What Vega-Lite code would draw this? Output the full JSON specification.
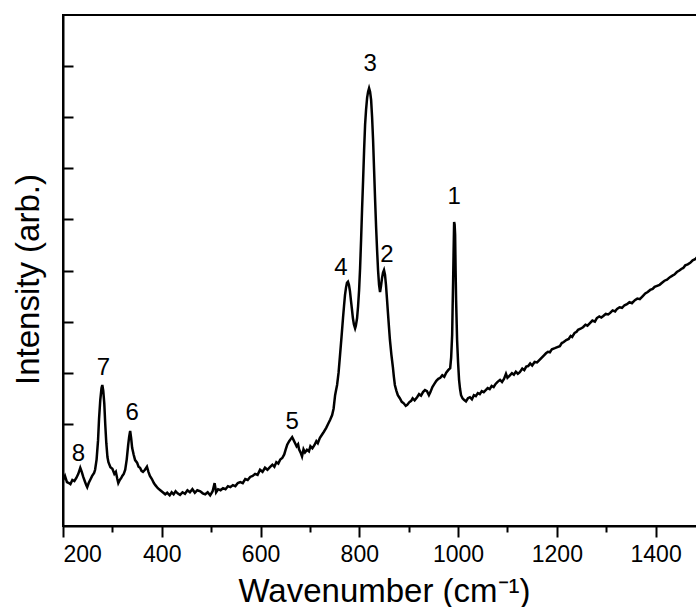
{
  "$schema": "https://vega.github.io/schema/vega-lite/v6.json",
  "width": 642,
  "height": 511,
  "autosize": {"type": "none"},
  "padding": {"left": 63, "top": 15, "right": 0, "bottom": 81},
  "background": "white",
  "config": {"view": {"stroke": "black", "strokeWidth": 2}, "font": "Liberation Sans"},
  "datasets": {
    "spectrum": [
      {"w":200,"i":0.90},{"w":204,"i":0.98},{"w":208,"i":0.86},{"w":212,"i":0.84},{"w":215,"i":0.82},{"w":219,"i":0.90},{"w":223,"i":0.88},{"w":227,"i":0.94},{"w":231,"i":1.02},{"w":235,"i":1.14},{"w":238,"i":1.06},{"w":241,"i":0.96},{"w":244,"i":0.88},{"w":247,"i":0.80},{"w":249,"i":0.76},{"w":252,"i":0.84},{"w":256,"i":0.92},{"w":259,"i":0.98},{"w":263,"i":1.04},{"w":265,"i":1.10},{"w":268,"i":1.30},{"w":271,"i":1.68},{"w":273,"i":2.10},{"w":275.5,"i":2.47},{"w":278,"i":2.70},{"w":279.6,"i":2.76},{"w":281.5,"i":2.65},{"w":283.6,"i":2.40},{"w":285.5,"i":2.00},{"w":287.7,"i":1.62},{"w":290,"i":1.35},{"w":292,"i":1.25},{"w":296,"i":1.15},{"w":300,"i":1.12},{"w":304,"i":1.02},{"w":307,"i":1.06},{"w":310,"i":0.92},{"w":312,"i":0.84},{"w":315,"i":0.90},{"w":318,"i":0.94},{"w":320,"i":0.98},{"w":323,"i":1.02},{"w":326,"i":1.10},{"w":329,"i":1.30},{"w":332,"i":1.59},{"w":334,"i":1.75},{"w":336,"i":1.86},{"w":338,"i":1.72},{"w":340,"i":1.53},{"w":343,"i":1.40},{"w":346,"i":1.29},{"w":350,"i":1.24},{"w":353,"i":1.16},{"w":356,"i":1.14},{"w":359,"i":1.08},{"w":362,"i":1.06},{"w":366,"i":1.10},{"w":370,"i":1.16},{"w":373,"i":1.06},{"w":376,"i":0.98},{"w":380,"i":0.92},{"w":384,"i":0.84},{"w":387,"i":0.80},{"w":392,"i":0.74},{"w":397,"i":0.70},{"w":402,"i":0.66},{"w":407,"i":0.62},{"w":411,"i":0.65},{"w":416,"i":0.60},{"w":420,"i":0.66},{"w":424,"i":0.62},{"w":428,"i":0.68},{"w":432,"i":0.64},{"w":437,"i":0.61},{"w":442,"i":0.66},{"w":447,"i":0.63},{"w":452,"i":0.70},{"w":457,"i":0.66},{"w":462,"i":0.72},{"w":467,"i":0.65},{"w":472,"i":0.70},{"w":478,"i":0.68},{"w":483,"i":0.64},{"w":488,"i":0.62},{"w":493,"i":0.66},{"w":498,"i":0.60},{"w":503,"i":0.68},{"w":507,"i":0.84},{"w":510,"i":0.66},{"w":514,"i":0.72},{"w":519,"i":0.70},{"w":524,"i":0.74},{"w":529,"i":0.72},{"w":534,"i":0.78},{"w":539,"i":0.76},{"w":544,"i":0.80},{"w":549,"i":0.78},{"w":554,"i":0.84},{"w":559,"i":0.86},{"w":564,"i":0.84},{"w":569,"i":0.92},{"w":574,"i":0.90},{"w":579,"i":0.96},{"w":584,"i":0.98},{"w":589,"i":1.02},{"w":594,"i":1.00},{"w":599,"i":1.10},{"w":604,"i":1.06},{"w":609,"i":1.14},{"w":614,"i":1.10},{"w":619,"i":1.15},{"w":624,"i":1.20},{"w":628,"i":1.16},{"w":632,"i":1.25},{"w":636,"i":1.22},{"w":640,"i":1.30},{"w":644,"i":1.33},{"w":648,"i":1.40},{"w":651,"i":1.50},{"w":654,"i":1.59},{"w":658,"i":1.66},{"w":661,"i":1.70},{"w":664,"i":1.74},{"w":667,"i":1.68},{"w":670,"i":1.62},{"w":673,"i":1.56},{"w":676,"i":1.60},{"w":678,"i":1.50},{"w":681,"i":1.44},{"w":684,"i":1.36},{"w":687,"i":1.50},{"w":690,"i":1.44},{"w":694,"i":1.49},{"w":698,"i":1.46},{"w":701,"i":1.56},{"w":705,"i":1.52},{"w":709,"i":1.58},{"w":713,"i":1.66},{"w":716,"i":1.62},{"w":720,"i":1.72},{"w":724,"i":1.78},{"w":728,"i":1.84},{"w":733,"i":1.92},{"w":737,"i":2.00},{"w":741,"i":2.08},{"w":745,"i":2.17},{"w":748,"i":2.30},{"w":751,"i":2.56},{"w":753,"i":2.66},{"w":755,"i":2.76},{"w":758,"i":3.00},{"w":761,"i":3.35},{"w":764,"i":3.70},{"w":767,"i":4.07},{"w":769,"i":4.30},{"w":771,"i":4.52},{"w":773,"i":4.66},{"w":775,"i":4.76},{"w":777,"i":4.78},{"w":779,"i":4.72},{"w":781,"i":4.60},{"w":783,"i":4.42},{"w":785,"i":4.25},{"w":787,"i":4.07},{"w":789,"i":3.95},{"w":791.5,"i":3.87},{"w":793,"i":3.92},{"w":795.5,"i":4.07},{"w":797.5,"i":4.30},{"w":799.6,"i":4.62},{"w":801.6,"i":5.05},{"w":803.6,"i":5.60},{"w":805.6,"i":6.20},{"w":807.7,"i":6.77},{"w":809.7,"i":7.35},{"w":811.7,"i":7.85},{"w":813.7,"i":8.15},{"w":815.8,"i":8.38},{"w":817.8,"i":8.50},{"w":819.8,"i":8.57},{"w":821.8,"i":8.50},{"w":823.9,"i":8.34},{"w":825.9,"i":8.00},{"w":827.9,"i":7.55},{"w":830,"i":6.95},{"w":832,"i":6.38},{"w":834,"i":5.85},{"w":836,"i":5.40},{"w":838,"i":5.00},{"w":840,"i":4.72},{"w":842,"i":4.58},{"w":844,"i":4.70},{"w":846,"i":4.85},{"w":848,"i":4.96},{"w":850,"i":5.01},{"w":852,"i":4.92},{"w":854,"i":4.72},{"w":856,"i":4.45},{"w":858,"i":4.17},{"w":860,"i":3.90},{"w":862,"i":3.64},{"w":865,"i":3.35},{"w":868,"i":3.11},{"w":870,"i":2.92},{"w":872,"i":2.76},{"w":875,"i":2.65},{"w":878,"i":2.56},{"w":882,"i":2.50},{"w":886,"i":2.43},{"w":890,"i":2.40},{"w":894,"i":2.35},{"w":897,"i":2.37},{"w":901,"i":2.42},{"w":905,"i":2.45},{"w":908,"i":2.50},{"w":912,"i":2.46},{"w":917,"i":2.52},{"w":921,"i":2.58},{"w":925,"i":2.55},{"w":929,"i":2.62},{"w":933,"i":2.66},{"w":937,"i":2.64},{"w":941,"i":2.56},{"w":944,"i":2.62},{"w":948,"i":2.72},{"w":952,"i":2.78},{"w":956,"i":2.84},{"w":960,"i":2.88},{"w":964,"i":2.90},{"w":968,"i":2.95},{"w":972,"i":2.92},{"w":976,"i":3.00},{"w":980,"i":3.05},{"w":984,"i":3.09},{"w":986,"i":3.30},{"w":988,"i":3.74},{"w":989,"i":4.30},{"w":990,"i":4.81},{"w":991,"i":5.40},{"w":992,"i":5.95},{"w":993,"i":5.90},{"w":994,"i":5.70},{"w":995,"i":5.00},{"w":996,"i":4.42},{"w":998,"i":3.64},{"w":1000,"i":3.20},{"w":1002,"i":2.86},{"w":1004,"i":2.68},{"w":1006,"i":2.56},{"w":1009,"i":2.50},{"w":1012,"i":2.47},{"w":1016,"i":2.44},{"w":1020,"i":2.50},{"w":1024,"i":2.52},{"w":1028,"i":2.48},{"w":1032,"i":2.56},{"w":1036,"i":2.54},{"w":1040,"i":2.60},{"w":1044,"i":2.58},{"w":1048,"i":2.64},{"w":1052,"i":2.62},{"w":1056,"i":2.66},{"w":1060,"i":2.70},{"w":1064,"i":2.68},{"w":1068,"i":2.74},{"w":1072,"i":2.72},{"w":1076,"i":2.78},{"w":1080,"i":2.82},{"w":1085,"i":2.86},{"w":1089,"i":2.82},{"w":1093,"i":2.88},{"w":1097,"i":2.98},{"w":1100,"i":2.90},{"w":1104,"i":2.94},{"w":1109,"i":2.99},{"w":1113,"i":2.96},{"w":1117,"i":3.02},{"w":1121,"i":2.98},{"w":1125,"i":3.01},{"w":1130,"i":3.08},{"w":1134,"i":3.05},{"w":1138,"i":3.12},{"w":1142,"i":3.13},{"w":1146,"i":3.18},{"w":1150,"i":3.14},{"w":1155,"i":3.21},{"w":1160,"i":3.20},{"w":1165,"i":3.25},{"w":1170,"i":3.30},{"w":1174,"i":3.34},{"w":1178,"i":3.38},{"w":1182,"i":3.41},{"w":1186,"i":3.40},{"w":1190,"i":3.46},{"w":1196,"i":3.48},{"w":1201,"i":3.50},{"w":1206,"i":3.52},{"w":1210,"i":3.58},{"w":1214,"i":3.60},{"w":1219,"i":3.64},{"w":1224,"i":3.66},{"w":1228,"i":3.72},{"w":1231,"i":3.70},{"w":1236,"i":3.78},{"w":1240,"i":3.80},{"w":1243,"i":3.84},{"w":1248,"i":3.86},{"w":1253,"i":3.89},{"w":1258,"i":3.94},{"w":1262,"i":3.92},{"w":1267,"i":3.97},{"w":1272,"i":4.02},{"w":1277,"i":4.00},{"w":1281,"i":4.07},{"w":1286,"i":4.10},{"w":1290,"i":4.08},{"w":1294,"i":4.11},{"w":1299,"i":4.15},{"w":1304,"i":4.14},{"w":1308,"i":4.17},{"w":1313,"i":4.22},{"w":1318,"i":4.20},{"w":1322,"i":4.25},{"w":1327,"i":4.28},{"w":1332,"i":4.27},{"w":1337,"i":4.32},{"w":1342,"i":4.34},{"w":1347,"i":4.38},{"w":1352,"i":4.36},{"w":1358,"i":4.42},{"w":1363,"i":4.45},{"w":1368,"i":4.44},{"w":1374,"i":4.50},{"w":1379,"i":4.55},{"w":1384,"i":4.58},{"w":1389,"i":4.62},{"w":1394,"i":4.64},{"w":1398,"i":4.68},{"w":1403,"i":4.70},{"w":1408,"i":4.72},{"w":1413,"i":4.76},{"w":1418,"i":4.80},{"w":1423,"i":4.82},{"w":1429,"i":4.87},{"w":1434,"i":4.90},{"w":1438,"i":4.92},{"w":1443,"i":4.97},{"w":1448,"i":5.00},{"w":1452,"i":5.03},{"w":1456,"i":5.05},{"w":1460,"i":5.10},{"w":1465,"i":5.12},{"w":1470,"i":5.15},{"w":1475,"i":5.20},{"w":1480,"i":5.22},{"w":1484,"i":5.26}
    ],
    "peaks": [
      {"label":"1","w":992,"i":6.44},
      {"label":"2","w":856,"i":5.30},
      {"label":"3","w":822,"i":9.04},
      {"label":"4","w":763,"i":5.05},
      {"label":"5","w":664,"i":2.04},
      {"label":"6","w":340,"i":2.21},
      {"label":"7","w":282,"i":3.09},
      {"label":"8","w":231,"i":1.41}
    ]
  },
  "resolve": {"axis": {"x": "independent"}},
  "layer": [
    {
      "data": {"name": "spectrum"},
      "mark": {"type": "line", "color": "black", "strokeWidth": 2.5, "clip": true},
      "encoding": {
        "x": {
          "field": "w", "type": "quantitative",
          "scale": {"domain": [200, 1500], "nice": false, "zero": false},
          "axis": {
            "orient": "bottom",
            "values": [200, 400, 600, 800, 1000, 1200, 1400],
            "format": "d",
            "tickSize": 11, "tickWidth": 2, "tickColor": "black",
            "domainColor": "black", "domainWidth": 2,
            "labelFontSize": 23, "labelColor": "black", "labelPadding": 6, "labelFont": "Liberation Sans",
            "grid": false,
            "title": "Wavenumber (cm⁻¹)", "titleFontSize": 33, "titleFontWeight": "normal",
            "titleColor": "black", "titleFont": "Liberation Sans", "titlePadding": 9
          }
        },
        "y": {
          "field": "i", "type": "quantitative",
          "scale": {"domain": [0, 10], "nice": false, "zero": false},
          "axis": {
            "values": [2, 3, 4, 5, 6, 7, 8, 9],
            "tickSize": -10, "tickWidth": 2, "tickColor": "black",
            "labels": false, "grid": false,
            "domainColor": "black", "domainWidth": 2,
            "title": "Intensity (arb.)", "titleFontSize": 33, "titleFontWeight": "normal",
            "titleColor": "black", "titleFont": "Liberation Sans", "titlePadding": 17,
            "titleY": 264
          }
        }
      }
    },
    {
      "data": {"name": "peaks"},
      "mark": {"type": "text", "fontSize": 24, "color": "black", "font": "Liberation Sans", "align": "center", "baseline": "middle"},
      "encoding": {
        "x": {
          "field": "w", "type": "quantitative",
          "scale": {"domain": [200, 1500], "nice": false, "zero": false},
          "axis": {
            "orient": "bottom",
            "values": [300, 500, 700, 900, 1100, 1300],
            "tickSize": 6, "tickWidth": 2, "tickColor": "black",
            "labels": false, "domain": false, "grid": false, "title": null
          }
        },
        "y": {"field": "i", "type": "quantitative"},
        "text": {"field": "label", "type": "nominal"}
      }
    }
  ]
}
